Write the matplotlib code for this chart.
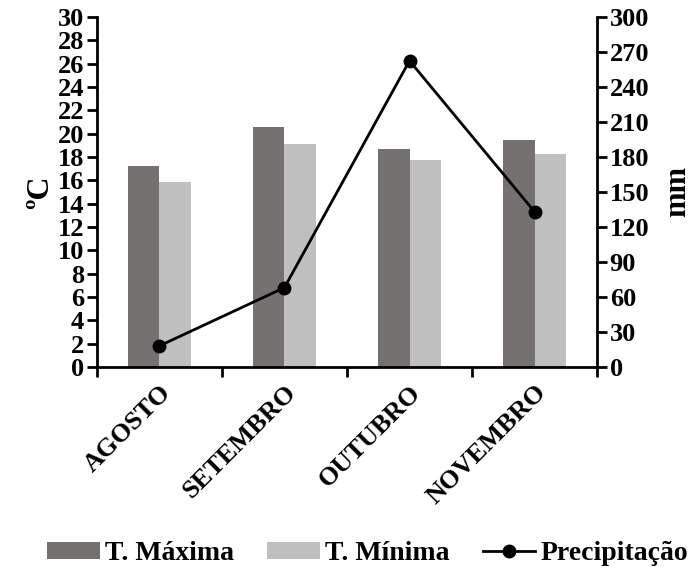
import numpy as np
import matplotlib
matplotlib.use("Agg")
import matplotlib.pyplot as plt

plt.rcParams['font.family'] = ['Liberation Serif', 'DejaVu Serif']
plt.rcParams['font.weight'] = 'bold'

meses = ['AGOSTO', 'SETEMBRO', 'OUTUBRO', 'NOVEMBRO']
t_max = [17.2, 20.6, 18.7, 19.45]
t_min = [15.85, 19.15, 17.7, 18.25]
precip = [18, 68, 262.5, 133]

fig = plt.figure(figsize=(6.96, 5.68), dpi=100)
ax = fig.add_axes([0.139, 0.354, 0.719, 0.616])
ax2 = ax.twinx()

x = np.arange(len(meses))
w = 0.25
b1 = ax.bar(x - w/2, t_max, w, color='#767171', label='T. Máxima', zorder=2)
b2 = ax.bar(x + w/2, t_min, w, color='#bfbfbf', label='T. Mínima', zorder=2)
l1, = ax2.plot(x, precip, color='black', lw=2, marker='o', markersize=9,
               label='Precipitação')

ax.set_xlim(-0.5, 3.5)
ax.set_ylim(0, 30)
ax.set_yticks(np.arange(0, 31, 2))
ax2.set_ylim(0, 300)
ax2.set_yticks(np.arange(0, 301, 30))

ax.set_xticks(np.arange(-0.5, 3.6, 1))
ax.set_xticklabels([])
ax.set_xticks(x, minor=True)
ax.set_xticklabels(meses, minor=True, rotation=45, ha='right',
                   rotation_mode='anchor', fontsize=19, fontweight='bold')
ax.tick_params(axis='x', which='minor', length=0, pad=10)
ax.tick_params(axis='x', which='major', length=7, width=2, direction='out')

for a in (ax, ax2):
    a.spines['top'].set_visible(False)
    for s in ('left', 'right', 'bottom'):
        a.spines[s].set_linewidth(2)
    a.tick_params(axis='y', length=7, width=2, labelsize=19, pad=2)
    for t in a.get_yticklabels():
        t.set_fontweight('bold')
ax.spines['right'].set_visible(False)
ax2.spines['left'].set_visible(False)
ax2.spines['bottom'].set_visible(False)

ax.set_ylabel('ºC', fontsize=23, fontweight='bold', labelpad=2)
ax2.set_ylabel('mm', fontsize=22, fontweight='bold', labelpad=10)

fig.legend([b1, b2, l1], ['T. Máxima', 'T. Mínima', 'Precipitação'],
           loc='center', bbox_to_anchor=(0.528, 0.025), ncol=3, frameon=False,
           handlelength=1.9, handleheight=0.6, handletextpad=0.18,
           columnspacing=1.2, borderpad=0, prop={'size': 20, 'weight': 'bold'})

fig.savefig('out.png', dpi=100)
